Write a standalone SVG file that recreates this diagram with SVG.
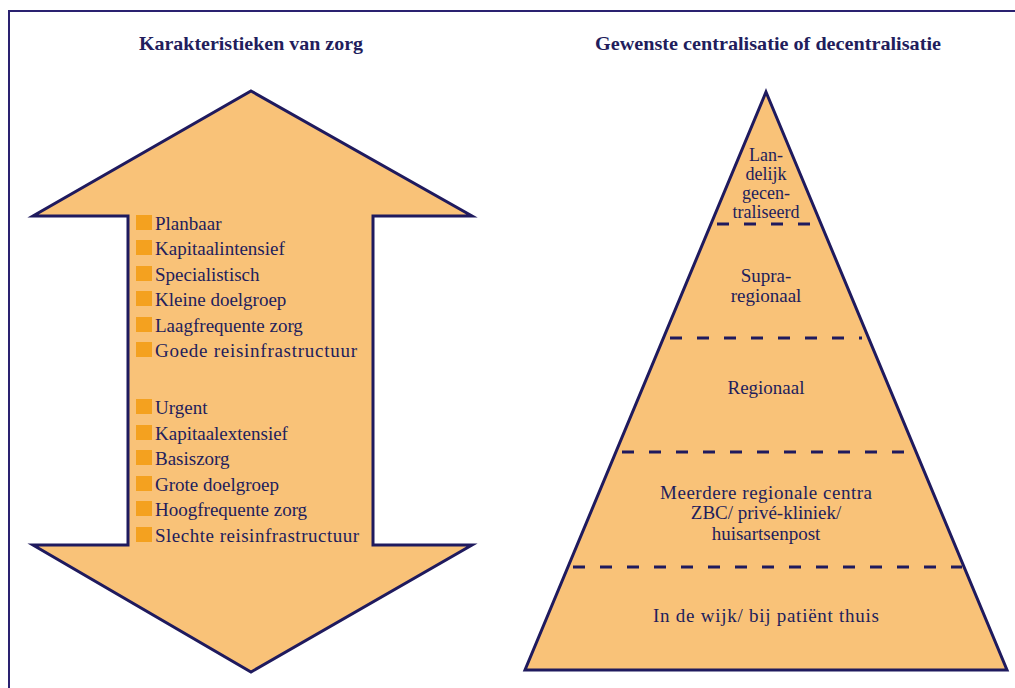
<svg xmlns="http://www.w3.org/2000/svg" width="1015" height="688" viewBox="0 0 1015 688">
<style>
.t{fill:#221d5c;font-size:19px}
.title{fill:#221d5c;font-size:19px;font-weight:bold}
.c{text-anchor:middle}
.s{font-size:18px}
.shape{fill:#f9c278;stroke:#1f1a5e;stroke-width:3;stroke-linejoin:miter}
.dash{stroke:#1f1a5e;stroke-width:3;stroke-dasharray:12 15;fill:none}
.b{fill:#f4a11f}
</style>
<rect width="1015" height="688" fill="#fff"/>
<path d="M9,688 V11 H1015" fill="none" stroke="#2a2170" stroke-width="2"/>
<g font-family="Liberation Serif, Times New Roman, serif">
<g id="title-left"><text class="title c" x="251" y="50" textLength="224" lengthAdjust="spacingAndGlyphs">Karakteristieken van zorg</text></g>
<g id="title-right"><text class="title c" x="768" y="50" textLength="346" lengthAdjust="spacingAndGlyphs">Gewenste centralisatie of decentralisatie</text></g>
<g id="arrow">
<polygon class="shape" points="251,91 472,216 373,216 373,545 472,545 251,672 33,545 128,545 128,216 33,216"/>
<g id="bullets">
<rect class="b" x="136" y="215" width="16" height="15"/>
<rect class="b" x="136" y="240" width="16" height="15"/>
<rect class="b" x="136" y="266" width="16" height="15"/>
<rect class="b" x="136" y="291" width="16" height="15"/>
<rect class="b" x="136" y="317" width="16" height="15"/>
<rect class="b" x="136" y="342" width="16" height="15"/>
<rect class="b" x="136" y="399" width="16" height="15"/>
<rect class="b" x="136" y="425" width="16" height="15"/>
<rect class="b" x="136" y="450" width="16" height="15"/>
<rect class="b" x="136" y="476" width="16" height="15"/>
<rect class="b" x="136" y="501" width="16" height="15"/>
<rect class="b" x="136" y="527" width="16" height="15"/>
</g>
<text class="t" x="155" y="230">Planbaar</text>
<text class="t" x="155" y="255">Kapitaalintensief</text>
<text class="t" x="155" y="281">Specialistisch</text>
<text class="t" x="155" y="306">Kleine doelgroep</text>
<text class="t" x="155" y="332">Laagfrequente zorg</text>
<text class="t" x="155" y="357" textLength="202" lengthAdjust="spacing">Goede reisinfrastructuur</text>
<text class="t" x="155" y="414">Urgent</text>
<text class="t" x="155" y="440">Kapitaalextensief</text>
<text class="t" x="155" y="465">Basiszorg</text>
<text class="t" x="155" y="491">Grote doelgroep</text>
<text class="t" x="155" y="516">Hoogfrequente zorg</text>
<text class="t" x="155" y="542" textLength="204" lengthAdjust="spacing">Slechte reisinfrastructuur</text>
</g>
<g id="pyramid">
<polygon class="shape" points="766,92 1007,670 525,670"/>
</g>
<g id="connectors">
<line class="dash" x1="717" y1="224" x2="810" y2="224"/>
<line class="dash" x1="670" y1="338" x2="862" y2="338"/>
<line class="dash" x1="622" y1="452" x2="906" y2="452"/>
<line class="dash" x1="573" y1="567" x2="962" y2="567"/>
</g>
<g id="level-landelijk">
<text class="t c s" x="766" y="161">Lan-</text>
<text class="t c s" x="766" y="180">delijk</text>
<text class="t c s" x="766" y="199">gecen-</text>
<text class="t c s" x="766" y="218">traliseerd</text>
</g>
<g id="level-supra">
<text class="t c" x="766" y="282">Supra-</text>
<text class="t c" x="766" y="302">regionaal</text>
</g>
<g id="level-regionaal">
<text class="t c" x="766" y="394">Regionaal</text>
</g>
<g id="level-meerdere">
<text class="t c" x="766" y="499" textLength="212" lengthAdjust="spacing">Meerdere regionale centra</text>
<text class="t c" x="766" y="519">ZBC/ privé-kliniek/</text>
<text class="t c" x="766" y="540">huisartsenpost</text>
</g>
<g id="level-wijk">
<text class="t c" x="766" y="622" textLength="226" lengthAdjust="spacing">In de wijk/ bij patiënt thuis</text>
</g>
</g>
</svg>
